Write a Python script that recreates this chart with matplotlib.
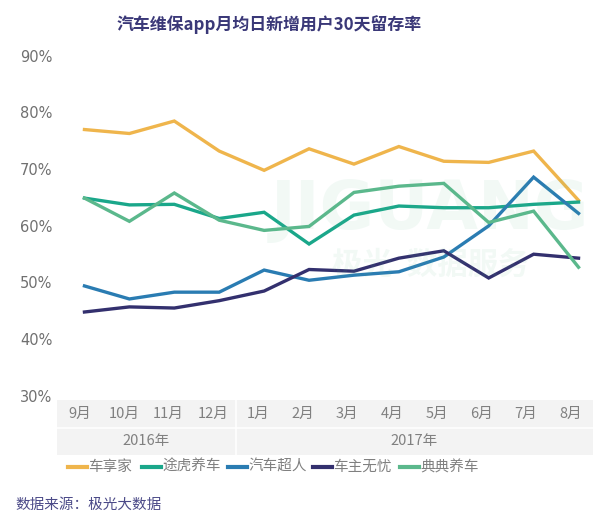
import matplotlib
matplotlib.use("Agg")
import matplotlib.pyplot as plt
from matplotlib.patches import Rectangle
from matplotlib.lines import Line2D

plt.rcParams['font.family'] = ['Noto Sans CJK SC', 'DejaVu Sans']

months = ["9月", "10月", "11月", "12月", "1月", "2月", "3月", "4月", "5月", "6月", "7月", "8月"]
years = ["2016年", "2017年"]
year_spans = [4, 8]
yticks = [30, 40, 50, 60, 70, 80, 90]

series_names = ["车享家", "途虎养车", "汽车超人", "车主无忧", "典典养车"]
chexiangjia = [77.2, 76.5, 78.7, 73.4, 70.0, 73.8, 71.1, 74.2, 71.6, 71.4, 73.4, 64.7]
tuhu = [65.1, 63.9, 64.0, 61.5, 62.6, 57.0, 62.1, 63.7, 63.4, 63.4, 64.0, 64.4]
qichechaoren = [49.6, 47.3, 48.5, 48.5, 52.4, 50.6, 51.5, 52.1, 54.7, 60.2, 68.8, 62.4]
chezhuwuyou = [45.0, 45.9, 45.7, 47.0, 48.7, 52.5, 52.2, 54.5, 55.8, 51.0, 55.2, 54.5]
diandian = [65.1, 61.0, 66.0, 61.2, 59.4, 60.1, 66.1, 67.2, 67.7, 60.8, 62.8, 52.9]
colors = ["#efb54c", "#1aa78a", "#2a7cb2", "#33306e", "#5bb88c"]
all_series = [chexiangjia, tuhu, qichechaoren, chezhuwuyou, diandian]

W, H = 603, 524
fig = plt.figure(figsize=(W / 100, H / 100), dpi=100)

def fx(px):
    return px / W

def fy(py):
    return 1 - py / H

# main axes: y 30..90 maps to py 397..57 ; x positions 85..578
x0, x1 = 62, 601
ax = fig.add_axes([fx(x0), fy(397), fx(x1 - x0), (397 - 57) / H])
ax.set_xlim(-0.5, 11.5)
ax.set_ylim(30, 90)
ax.axis('off')

# watermark
fig.text(fx(430), fy(210), "JIGUANG", fontsize=48, fontweight='bold', color="#5bb88c",
         alpha=0.08, ha='center', va='center', family=['DejaVu Sans'])
fig.text(fx(430), fy(265), "极光  数据服务", fontsize=22, fontweight='bold', color="#5bb88c",
         alpha=0.08, ha='center', va='center')

xs = list(range(len(months)))
for vals, c in zip(all_series, colors):
    ax.plot(xs, vals, color=c, lw=2.4, solid_joinstyle='miter', zorder=3)

# y tick labels
for t in yticks:
    py = 397 - (t - 30) * (397 - 57) / 60
    fig.text(fx(20), fy(py), f"{t}%", fontsize=10.5, color="#707070", ha='left', va='center',
             family=['DejaVu Sans'])

# category table
tab = fig.add_axes([fx(57), fy(455), fx(593 - 57), (455 - 400) / H])
tab.set_xlim(0, 12)
tab.set_ylim(0, 2)
tab.axis('off')
tab.add_patch(Rectangle((0, 0), 12, 2, facecolor="#f3f3f3", edgecolor='none'))
tab.plot([0, 12], [1, 1], color="white", lw=1.2)
tab.plot([4, 4], [0, 2], color="white", lw=1.2)
for i, m in enumerate(months):
    tab.text(i + 0.5, 1.5, m, ha='center', va='center', fontsize=10.5, color="#808080")
start = 0
for y, span in zip(years, year_spans):
    tab.text(start + span / 2, 0.5, y, ha='center', va='center', fontsize=10.5, color="#808080")
    start += span

# title
fig.text(fx(269), fy(25), "汽车维保app月均日新增用户30天留存率", fontsize=12.2, fontweight='bold',
         color="#3a3878", ha='center', va='center')

# legend
leg_x = [68, 142, 228, 313, 400]
for lx, name, c in zip(leg_x, series_names, colors):
    fig.add_artist(Line2D([fx(lx), fx(lx + 19)], [fy(467), fy(467)], color=c, lw=3,
                          transform=fig.transFigure))
    fig.text(fx(lx + 20), fy(467), name, fontsize=10.5, color="#808080", ha='left', va='center')

# source
fig.text(fx(15), fy(505), "数据来源：极光大数据", fontsize=10.5, color="#4b4a88",
         ha='left', va='center', style='italic')

fig.savefig("out.png", dpi=100, facecolor='white')
